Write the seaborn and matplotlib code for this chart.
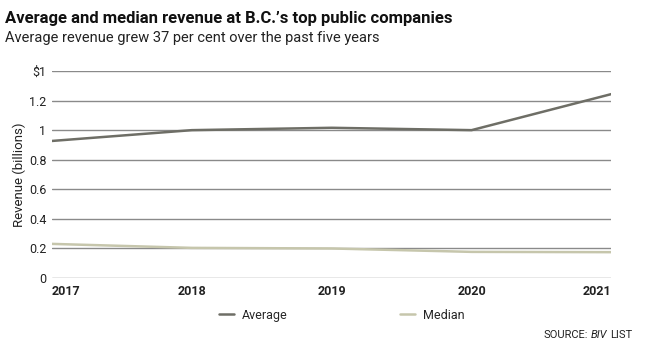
import matplotlib
matplotlib.use("Agg")
import matplotlib.pyplot as plt
import seaborn as sns
import pandas as pd

years = [2017, 2018, 2019, 2020, 2021]
average = [0.927, 1.0, 1.016, 1.0, 1.244]
median = [0.231, 0.204, 0.200, 0.177, 0.175]
ytick_vals = [0, 0.2, 0.4, 0.6, 0.8, 1.0, 1.2, 1.4]
ytick_labels = ["0", "0.2", "0.4", "0.6", "0.8", "1", "1.2", "$1"]

df = pd.DataFrame({
    "Year": years * 2,
    "Revenue": average + median,
    "Series": ["Average"] * len(years) + ["Median"] * len(years),
})

sns.set_theme(style="white")
plt.rcParams["font.family"] = ["Roboto", "DejaVu Sans"]

fig = plt.figure(figsize=(6.7, 3.48), dpi=100)
ax = fig.add_axes([0.0776, 0.201, 0.835, 0.595])

palette = {"Average": "#6e6e66", "Median": "#c6c6ac"}
sns.lineplot(data=df, x="Year", y="Revenue", hue="Series", palette=palette,
             linewidth=1.8, ax=ax, legend=False, zorder=3)

ax.set_xlim(2017, 2021)
ax.set_ylim(0, 1.4)
ax.set_yticks(ytick_vals)
ax.set_yticklabels(ytick_labels)
ax.set_xticks(years)
ax.set_xticklabels([str(y) for y in years])
for s in ax.spines.values():
    s.set_visible(False)
ax.grid(axis="y", color="#8a8a8a", linewidth=1)
ax.grid(axis="x", visible=False)
ax.tick_params(axis="both", length=0, labelsize=9, colors="#222222")
ax.tick_params(axis="y", pad=4)
ax.tick_params(axis="x", pad=5)
for lab in ax.get_xticklabels():
    lab.set_fontweight("bold")
xl = ax.get_xticklabels()
xl[0].set_horizontalalignment("left")
xl[-1].set_horizontalalignment("right")
ax.set_xlabel("")
ax.set_ylabel("Revenue (billions)", fontsize=9.5, color="#222222", labelpad=2)

from matplotlib.lines import Line2D
handles = [Line2D([], [], color=palette["Average"], lw=1.8),
           Line2D([], [], color=palette["Median"], lw=1.8)]
fig.legend(handles, ["Average", "Median"], loc="center", bbox_to_anchor=(0.51, 0.094),
           ncol=2, frameon=False, fontsize=9, handlelength=1.2, columnspacing=9,
           handletextpad=0.6)

fig.text(0.008, 0.935, "Average and median revenue at B.C.\u2019s top public companies",
         fontsize=12, fontweight="bold", color="#111111")
fig.text(0.008, 0.88, "Average revenue grew 37 per cent over the past five years",
         fontsize=10.5, color="#222222")

# Source line, laid out piece by piece from the right edge
renderer = fig.canvas.get_renderer()
x_right = 632 / 670.0
y_src = 0.03
t3 = fig.text(x_right, y_src, "LIST", fontsize=8, color="#222222", ha="right")
w3 = t3.get_window_extent(renderer).width / fig.bbox.width
t2 = fig.text(x_right - w3 - 0.0035, y_src, "BIV", fontsize=8, color="#222222",
              ha="right", style="italic")
w2 = t2.get_window_extent(renderer).width / fig.bbox.width
fig.text(x_right - w3 - w2 - 0.0075, y_src, "SOURCE:", fontsize=8, color="#222222",
         ha="right")

fig.savefig("out.png", dpi=100)
